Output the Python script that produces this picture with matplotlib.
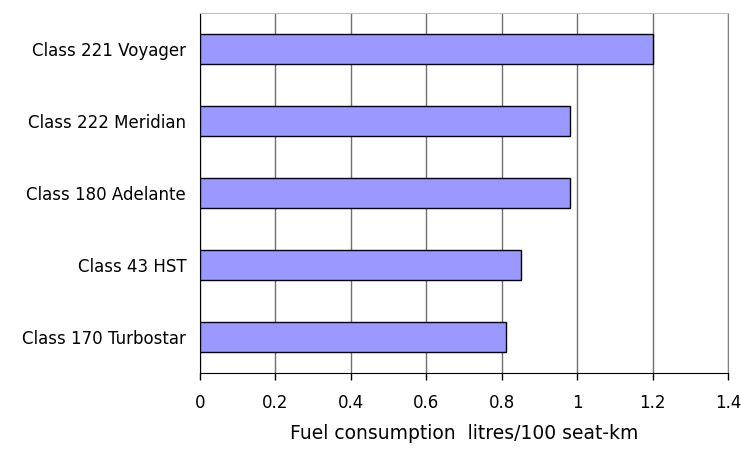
import matplotlib.pyplot as plt

# ---------------- DATA ----------------
trains = ["Class 221 Voyager", "Class 222 Meridian", "Class 180 Adelante",
          "Class 43 HST", "Class 170 Turbostar"]
fuel = [1.20, 0.98, 0.98, 0.85, 0.81]
xticks = [0, 0.2, 0.4, 0.6, 0.8, 1.0, 1.2, 1.4]
xtick_labels = ["0", "0.2", "0.4", "0.6", "0.8", "1", "1.2", "1.4"]

# ---------------- PLOT ----------------
plt.rcParams['font.family'] = ['DejaVu Sans']

fig = plt.figure(figsize=(7.41, 4.5), dpi=100)
ax = fig.add_axes([0.27, 0.171, 0.7125, 0.8])

ypos = list(range(len(trains)))[::-1]
ax.barh(ypos, fuel, height=0.42, color="#9999FF", edgecolor="black",
        linewidth=1, zorder=3)

ax.set_xlim(0, 1.4)
ax.set_ylim(-0.5, len(trains) - 0.5)
ax.set_xticks(xticks)
ax.set_xticklabels(xtick_labels, fontsize=12)
ax.set_yticks(ypos)
ax.set_yticklabels(trains, fontsize=12)
ax.tick_params(axis="y", length=0, pad=10)
ax.tick_params(axis="x", direction="out", length=5, width=1, pad=10)

ax.grid(axis="x", color="#707070", linewidth=1, zorder=0)

ax.spines["left"].set_color("black")
ax.spines["bottom"].set_color("black")
ax.spines["top"].set_color("#c0c0c0")
ax.spines["right"].set_color("#808080")

ax.set_xlabel("Fuel consumption  litres/100 seat-km", fontsize=13.5, labelpad=9)

fig.savefig("out.png", dpi=100)
plt.close()
